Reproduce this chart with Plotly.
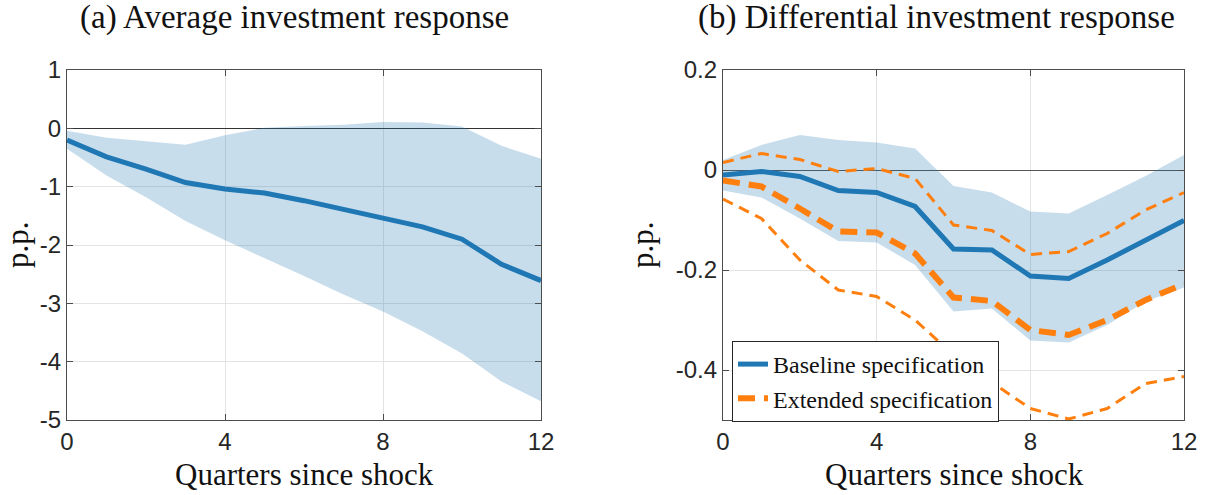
import plotly.graph_objects as go

quarters = list(range(13))

# Panel (a): average investment response
avg_mean = [-0.20, -0.49, -0.70, -0.93, -1.04, -1.11, -1.24, -1.39, -1.52, -1.69, -1.90, -2.33, -2.61]
avg_upper = [-0.04, -0.16, -0.22, -0.28, -0.12, 0.01, 0.04, 0.06, 0.11, 0.10, 0.03, -0.30, -0.52]
avg_lower = [-0.35, -0.81, -1.18, -1.59, -1.92, -2.22, -2.53, -2.85, -3.14, -3.48, -3.86, -4.34, -4.68]

# Panel (b): differential investment response
base_mean = [-0.010, -0.003, -0.013, -0.041, -0.045, -0.073, -0.158, -0.160, -0.212, -0.217, -0.180, -0.140, -0.101]
base_upper = [0.020, 0.050, 0.070, 0.060, 0.055, 0.043, -0.032, -0.045, -0.083, -0.087, -0.050, -0.012, 0.030]
base_lower = [-0.041, -0.055, -0.097, -0.142, -0.145, -0.190, -0.283, -0.277, -0.341, -0.345, -0.310, -0.263, -0.235]
ext_mean = [-0.021, -0.033, -0.077, -0.123, -0.125, -0.167, -0.255, -0.262, -0.320, -0.330, -0.300, -0.260, -0.228]
ext_upper = [0.015, 0.033, 0.021, -0.003, 0.003, -0.017, -0.110, -0.121, -0.169, -0.163, -0.127, -0.080, -0.045]
ext_lower = [-0.058, -0.097, -0.180, -0.240, -0.253, -0.300, -0.370, -0.425, -0.477, -0.498, -0.477, -0.427, -0.413]

x_ticks = [0, 4, 8, 12]
x_ticklabels = ["0", "4", "8", "12"]
ya_ticks = [-5, -4, -3, -2, -1, 0, 1]
ya_ticklabels = ["-5", "-4", "-3", "-2", "-1", "0", "1"]
yb_ticks = [-0.4, -0.2, 0, 0.2]
yb_ticklabels = ["-0.4", "-0.2", "0", "0.2"]

title_a = "(a) Average investment response"
title_b = "(b) Differential investment response"
xlabel = "Quarters since shock"
ylabel = "p.p."
legend_names = ["Baseline specification", "Extended specification"]

BLUE = "#1f77b4"
BAND = "rgba(31,119,180,0.25)"
ORANGE = "#ff7f0e"
SERIF = "Liberation Serif"
SANS = "Liberation Sans"
TEXT = "#111111"

fig = go.Figure()

# Panel (a)
fig.add_trace(go.Scatter(x=quarters, y=avg_upper, mode="lines", line=dict(width=0),
                         showlegend=False, hoverinfo="skip", xaxis="x", yaxis="y"))
fig.add_trace(go.Scatter(x=quarters, y=avg_lower, mode="lines", line=dict(width=0),
                         fill="tonexty", fillcolor=BAND, showlegend=False, hoverinfo="skip",
                         xaxis="x", yaxis="y"))
fig.add_trace(go.Scatter(x=quarters, y=avg_mean, mode="lines", line=dict(color=BLUE, width=5),
                         showlegend=False, xaxis="x", yaxis="y"))

# Panel (b)
fig.add_trace(go.Scatter(x=quarters, y=base_upper, mode="lines", line=dict(width=0),
                         showlegend=False, hoverinfo="skip", xaxis="x2", yaxis="y2"))
fig.add_trace(go.Scatter(x=quarters, y=base_lower, mode="lines", line=dict(width=0),
                         fill="tonexty", fillcolor=BAND, showlegend=False, hoverinfo="skip",
                         xaxis="x2", yaxis="y2"))
fig.add_trace(go.Scatter(x=quarters, y=base_mean, mode="lines", name=legend_names[0],
                         line=dict(color=BLUE, width=5), xaxis="x2", yaxis="y2"))
fig.add_trace(go.Scatter(x=quarters, y=ext_mean, mode="lines", name=legend_names[1],
                         line=dict(color=ORANGE, width=6, dash="17px,9px"), xaxis="x2", yaxis="y2"))
fig.add_trace(go.Scatter(x=quarters, y=ext_upper, mode="lines", showlegend=False,
                         line=dict(color=ORANGE, width=3, dash="11px,7px"), xaxis="x2", yaxis="y2"))
fig.add_trace(go.Scatter(x=quarters, y=ext_lower, mode="lines", showlegend=False,
                         line=dict(color=ORANGE, width=3, dash="11px,7px"), xaxis="x2", yaxis="y2"))

axis_common = dict(
    showline=True, linecolor="#4d4d4d", linewidth=1.2, mirror="ticks",
    ticks="inside", ticklen=6, tickcolor="#4d4d4d", tickwidth=1.2,
    showgrid=True, gridcolor="#e3e3e3", gridwidth=1,
    tickfont=dict(family=SANS, size=24, color="#262626"),
    zeroline=False, automargin=False,
)

W, H = 1207, 495


def fx(px):
    return px / W


def fy(py):
    return 1 - py / H


fig.update_layout(
    width=W, height=H,
    margin=dict(l=0, r=0, t=0, b=0, autoexpand=False),
    paper_bgcolor="white", plot_bgcolor="white",
    xaxis=dict(domain=[fx(67), fx(541)], range=[0, 12], tickvals=x_ticks, ticktext=x_ticklabels,
               anchor="y", **axis_common),
    yaxis=dict(domain=[fy(420), fy(70)], range=[-5, 1], tickvals=ya_ticks,
               ticktext=ya_ticklabels, anchor="x", **{**axis_common, "zeroline": True,
               "zerolinecolor": "#333333", "zerolinewidth": 1}),
    xaxis2=dict(domain=[fx(723), fx(1184)], range=[0, 12], tickvals=x_ticks, ticktext=x_ticklabels,
                anchor="y2", **axis_common),
    yaxis2=dict(domain=[fy(420), fy(70)], range=[-0.5, 0.2], tickvals=yb_ticks,
                ticktext=yb_ticklabels, anchor="x2", **{**axis_common, "zeroline": True,
                "zerolinecolor": "#555555", "zerolinewidth": 1}),
    legend=dict(x=fx(732), y=fy(341), xanchor="left", yanchor="top",
                bgcolor="white", bordercolor="#262626", borderwidth=1,
                font=dict(family=SERIF, size=24, color=TEXT),
                traceorder="normal", tracegroupgap=0, itemwidth=30),
    annotations=[
        dict(text=title_a, x=fx(294), y=fy(17), xref="paper", yref="paper", showarrow=False,
             font=dict(family=SERIF, size=33, color=TEXT), xanchor="center", yanchor="middle"),
        dict(text=title_b, x=fx(937), y=fy(17), xref="paper", yref="paper", showarrow=False,
             font=dict(family=SERIF, size=33, color=TEXT), xanchor="center", yanchor="middle"),
        dict(text=xlabel, x=fx(304), y=fy(474), xref="paper", yref="paper", showarrow=False,
             font=dict(family=SERIF, size=31, color=TEXT), xanchor="center", yanchor="middle"),
        dict(text=xlabel, x=fx(954), y=fy(474), xref="paper", yref="paper", showarrow=False,
             font=dict(family=SERIF, size=31, color=TEXT), xanchor="center", yanchor="middle"),
        dict(text=ylabel, x=fx(17), y=fy(245), xref="paper", yref="paper", showarrow=False,
             textangle=-90, font=dict(family=SERIF, size=31, color=TEXT),
             xanchor="center", yanchor="middle"),
        dict(text=ylabel, x=fx(642), y=fy(245), xref="paper", yref="paper", showarrow=False,
             textangle=-90, font=dict(family=SERIF, size=31, color=TEXT),
             xanchor="center", yanchor="middle"),
    ],
)

fig.write_html("out.html", config={"displayModeBar": False},
               post_script="document.body.style.margin='0';")
